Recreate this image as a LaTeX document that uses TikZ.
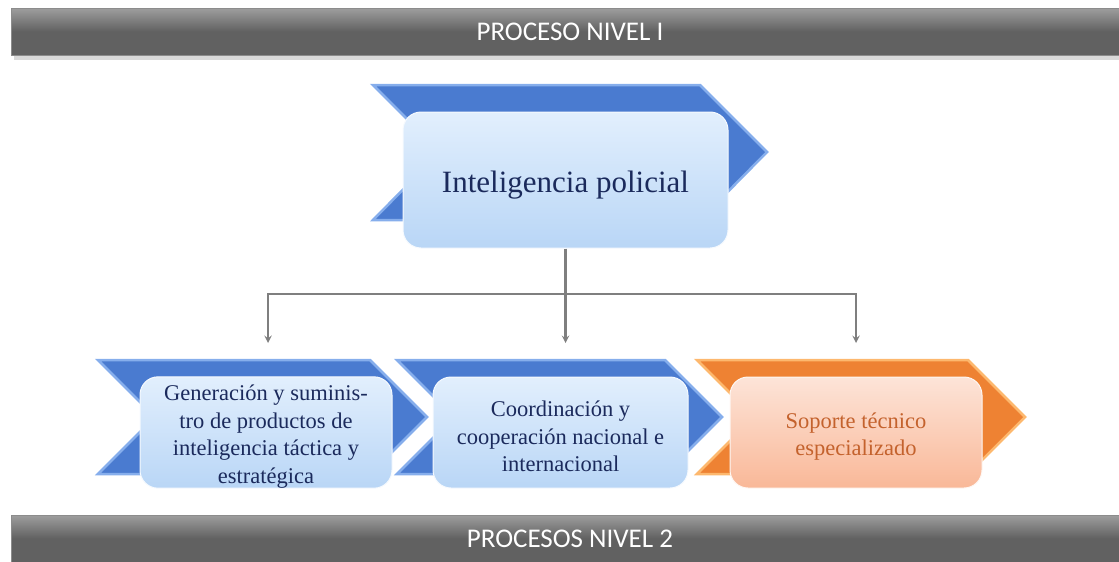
\documentclass[tikz,border=0pt]{standalone}
\usepackage{fontspec}
\setmainfont{Liberation Serif}
\newfontfamily\barfont{Carlito}
\usepackage{tikz}

\definecolor{navy}{HTML}{1B2A5C}
\definecolor{chevblue}{HTML}{4A7BD0}
\definecolor{bevblue}{HTML}{86AEEC}
\definecolor{boxtopblue}{HTML}{E2EFFD}
\definecolor{boxbotblue}{HTML}{B9D6F6}
\definecolor{chevorange}{HTML}{EE8233}
\definecolor{bevorange}{HTML}{FDB86E}
\definecolor{boxtoporange}{HTML}{FDE4D8}
\definecolor{boxbotorange}{HTML}{F9B898}
\definecolor{txtorange}{HTML}{C4622D}
\definecolor{conngray}{HTML}{7F7F7F}

\tikzset{
  bar/.style={top color=black!38, bottom color=black!62, middle color=black!62, draw=black!45},
  bartext/.style={text=white, font=\barfont\fontsize{27}{32}\selectfont},
  chevb/.style={fill=chevblue, draw=bevblue, line width=2.5pt, line join=miter},
  chevo/.style={fill=chevorange, draw=bevorange, line width=2.5pt, line join=miter},
  procbox/.style={rounded corners=18pt, top color=boxtopblue, bottom color=boxbotblue,
    draw=white!70!boxtopblue, line width=1pt, text=navy, align=center, inner sep=0pt},
  orangebox/.style={procbox, top color=boxtoporange, bottom color=boxbotorange,
    draw=white!70!boxtoporange, text=txtorange},
  conn/.style={draw=conngray, line width=2.2pt}
}

\begin{document}
\begin{tikzpicture}[x=1pt, y=-1pt]
        \useasboundingbox (0,0) rectangle (1119,562);
        % bars
        \fill[black!15] (14,12) rectangle (1119,60);
        \draw[bar] (11,8) rectangle (1119,55);
        \node[bartext] (nivel1) at (570,32) {PROCESO NIVEL I};
        \draw[bar] (11,515) rectangle (1119,562);
        \node[bartext] (nivel2) at (570,539) {PROCESOS NIVEL 2};
        % chevrons
        \draw[chevb] (373,85) -- (700,85) -- (767,152) -- (700,220) -- (373,220) -- (440,152) -- cycle;
        \draw[chevb] (98,360) -- (370,360) -- (427,417) -- (370,474) -- (98,474) -- (155,417) -- cycle;
        \draw[chevb] (397,360) -- (665,360) -- (722,417) -- (665,474) -- (397,474) -- (454,417) -- cycle;
        \draw[chevo] (697,360) -- (968,360) -- (1025,417) -- (968,474) -- (697,474) -- (754,417) -- cycle;
        % boxes
        \node[procbox, minimum width=325pt, minimum height=136pt,
              font=\fontsize{31}{36}\selectfont] (intel) at (565.5,180) {\rule{0pt}{31pt}Inteligencia policial};
        \node[procbox, minimum width=252pt, minimum height=111pt,
              font=\fontsize{22.5}{27.5}\selectfont] (gen) at (266,432.5)
              {\rule{0pt}{24pt}Generación y suminis-\\tro de productos de\\inteligencia táctica y\\estratégica};
        \node[procbox, minimum width=255pt, minimum height=111pt,
              font=\fontsize{22.5}{27.5}\selectfont] (coord) at (560.5,432.5)
              {\rule{0pt}{24pt}Coordinación y\\cooperación nacional e\\internacional};
        \node[orangebox, minimum width=252pt, minimum height=111pt,
              font=\fontsize{22.5}{27.5}\selectfont] (soporte) at (856,432.5)
              {\rule{0pt}{24pt}Soporte técnico\\especializado};
        % connectors
        \coordinate (bus) at (565.5,294);
        \coordinate (a1) at (268,343);
        \coordinate (a2) at (565.5,343);
        \coordinate (a3) at (856,343);
        \draw[conn] (intel.south) -- (bus);
        \draw[conn, ->, >=stealth] (bus) -| (a1);
        \draw[conn, ->, >=stealth] (bus) -- (a2);
        \draw[conn, ->, >=stealth] (bus) -| (a3);
\end{tikzpicture}
\end{document}
